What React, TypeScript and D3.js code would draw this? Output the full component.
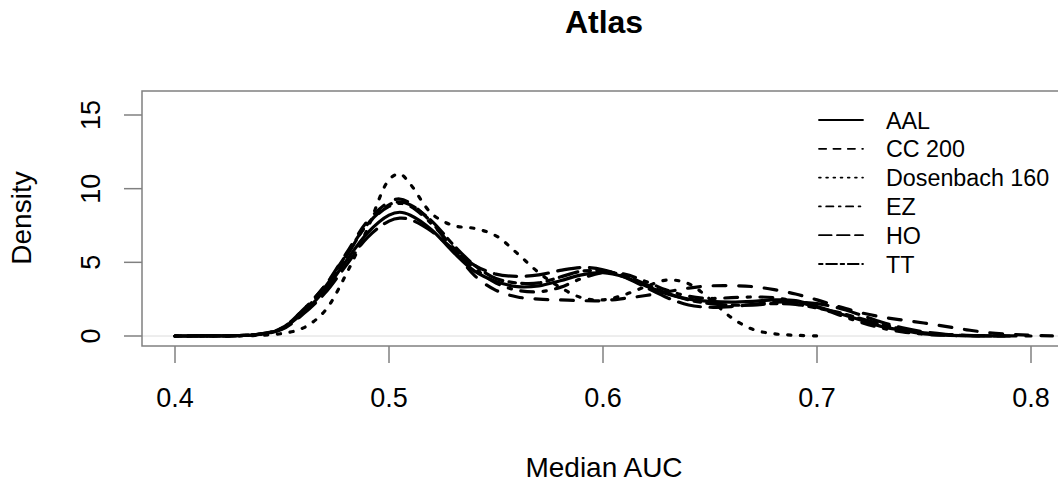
import React from "react";
import * as d3 from "d3";

// Shared grid of Median AUC values at which densities were read
const gridX = [
  0.40, 0.41, 0.42, 0.43, 0.44, 0.45, 0.46, 0.47, 0.48, 0.49, 0.50, 0.505,
  0.51, 0.52, 0.53, 0.54, 0.55, 0.56, 0.57, 0.58, 0.59, 0.60, 0.61, 0.62,
  0.63, 0.64, 0.65, 0.66, 0.67, 0.68, 0.69, 0.70, 0.71, 0.72, 0.73, 0.74,
  0.75, 0.76, 0.77, 0.78, 0.79, 0.80, 0.81,
];

const aal = [0, 0.003, 0.01, 0.03, 0.12, 0.5, 1.6, 3.1, 5.1, 7.0, 8.2, 8.4, 8.2, 7.2, 5.7, 4.4, 3.7, 3.35, 3.4, 3.75, 4.15, 4.3, 4.0, 3.4, 2.85, 2.5, 2.35, 2.3, 2.35, 2.45, 2.4, 2.0, 1.55, 1.1, 0.65, 0.37, 0.15, 0.06, 0.02, 0.01, 0.0];
const cc200 = [0, 0.003, 0.01, 0.035, 0.14, 0.55, 1.8, 3.4, 5.6, 7.8, 9.1, 9.3, 9.0, 7.7, 5.9, 4.1, 3.1, 2.65, 2.5, 2.45, 2.4, 2.4, 2.55, 2.75, 3.0, 3.25, 3.4, 3.42, 3.35, 3.15, 2.85, 2.45, 2.0, 1.6, 1.3, 1.08, 0.88, 0.65, 0.42, 0.23, 0.12, 0.05, 0.01];
const dosenbach160 = [0, 0.002, 0.005, 0.015, 0.05, 0.17, 0.55, 1.7, 4.2, 7.3, 10.6, 11.0, 10.3, 8.3, 7.5, 7.3, 6.8, 5.6, 4.3, 3.3, 2.6, 2.45, 2.8, 3.35, 3.8, 3.55, 2.5, 1.25, 0.45, 0.15, 0.05, 0.01];
const ez = [0, 0.003, 0.01, 0.035, 0.14, 0.55, 1.8, 3.4, 5.5, 7.6, 8.8, 9.0, 8.8, 7.6, 6.0, 4.6, 3.6, 3.1, 3.0, 3.3, 3.9, 4.3, 4.2, 3.7, 3.1, 2.7, 2.55, 2.6, 2.65, 2.6, 2.35, 1.95, 1.45, 0.95, 0.55, 0.28, 0.12, 0.05, 0.02, 0.0];
const ho = [0, 0.002, 0.008, 0.03, 0.12, 0.45, 1.5, 2.9, 4.8, 6.7, 7.8, 8.0, 7.9, 7.1, 5.9, 4.8, 4.2, 4.05, 4.15, 4.45, 4.65, 4.5, 4.0, 3.3, 2.6, 2.1, 1.95, 2.0, 2.15, 2.3, 2.3, 2.2, 1.9, 1.45, 0.95, 0.55, 0.28, 0.12, 0.05, 0.02, 0.005, 0.0];
const tt = [0, 0.003, 0.01, 0.035, 0.13, 0.5, 1.7, 3.3, 5.4, 7.6, 8.9, 9.1, 8.9, 7.8, 6.2, 4.8, 3.9, 3.6, 3.6, 4.0, 4.4, 4.4, 4.1, 3.5, 2.9, 2.45, 2.2, 2.1, 2.1, 2.2, 2.15, 1.9, 1.6, 1.2, 0.8, 0.45, 0.22, 0.09, 0.03, 0.01, 0.0];

const seriesNames = ["AAL", "CC 200", "Dosenbach 160", "EZ", "HO", "TT"];
const seriesValues = [aal, cc200, dosenbach160, ez, ho, tt];
// R line types 1..6 as on-off patterns in units of line width
const ltyPatterns: number[][] = [[], [4, 4], [1, 3], [1, 3, 4, 3], [7, 3], [2, 2, 6, 2]];

const xTicks = [0.4, 0.5, 0.6, 0.7, 0.8];
const yTicks = [0, 5, 10, 15];

const FONT = "'Liberation Sans', Arial, Helvetica, sans-serif";

export default function App() {
  const W = 1058;
  const H = 482;
  const x = d3.scaleLinear().domain([0.4, 0.8]).range([175, 1031]);
  const y = d3.scaleLinear().domain([0, 15]).range([336, 115]);
  const box = { l: 142, t: 91, r: 1066, b: 346 };

  const line = d3
    .line<number>()
    .x((_, i) => x(gridX[i]))
    .y((d) => y(d))
    .curve(d3.curveCatmullRom.alpha(0.5));

  const curveW = 3.2;
  const legW = 1.8;
  const axisColor = "#808080";

  return (
    <svg
      width={W}
      height={H}
      style={{ position: "absolute", left: 0, top: 0, background: "#fff" }}
      fontFamily={FONT}
    >
      <rect x={0} y={0} width={W} height={H} fill="#fff" />
      {/* title */}
      <text x={604} y={33} textAnchor="middle" fontSize={32} fontWeight="bold" fill="#000">
        Atlas
      </text>

      {/* zero line */}
      <line x1={box.l} x2={box.r} y1={y(0)} y2={y(0)} stroke="#dcdcdc" strokeWidth={1} />

      {/* curves */}
      <g fill="none" stroke="#000" strokeLinecap="round" strokeLinejoin="round">
        {seriesValues.map((vals, i) => (
          <path
            key={seriesNames[i]}
            d={line(vals) || ""}
            strokeWidth={curveW}
            strokeDasharray={ltyPatterns[i].length ? ltyPatterns[i].map((v) => v * curveW).join(",") : undefined}
          />
        ))}
      </g>

      {/* box */}
      <rect
        x={box.l}
        y={box.t}
        width={box.r - box.l}
        height={box.b - box.t}
        fill="none"
        stroke={axisColor}
        strokeWidth={1.5}
      />

      {/* x axis */}
      {xTicks.map((t) => (
        <g key={"x" + t}>
          <line x1={x(t)} x2={x(t)} y1={box.b} y2={box.b + 17} stroke={axisColor} strokeWidth={1.5} />
          <text x={x(t)} y={407} textAnchor="middle" fontSize={27} fill="#000">
            {t.toFixed(1)}
          </text>
        </g>
      ))}
      <text x={604} y={477} textAnchor="middle" fontSize={28} fill="#000">
        Median AUC
      </text>

      {/* y axis */}
      {yTicks.map((t) => (
        <g key={"y" + t}>
          <line x1={box.l - 18} x2={box.l} y1={y(t)} y2={y(t)} stroke={axisColor} strokeWidth={1.5} />
          <text
            transform={`translate(100,${y(t)}) rotate(-90)`}
            textAnchor="middle"
            fontSize={27}
            fill="#000"
          >
            {t}
          </text>
        </g>
      ))}
      <text transform={`translate(31,218) rotate(-90)`} textAnchor="middle" fontSize={28} fill="#000">
        Density
      </text>

      {/* legend */}
      {seriesNames.map((name, i) => {
        const ry = 120 + i * 28.8;
        return (
          <g key={"leg" + name}>
            <line
              x1={819}
              x2={863}
              y1={ry}
              y2={ry}
              stroke="#000"
              strokeWidth={legW}
              strokeLinecap="round"
              strokeDasharray={ltyPatterns[i].length ? ltyPatterns[i].map((v) => v * legW).join(",") : undefined}
            />
            <text x={886} y={ry + 8.5} fontSize={23.3} fill="#000">
              {name}
            </text>
          </g>
        );
      })}
    </svg>
  );
}
